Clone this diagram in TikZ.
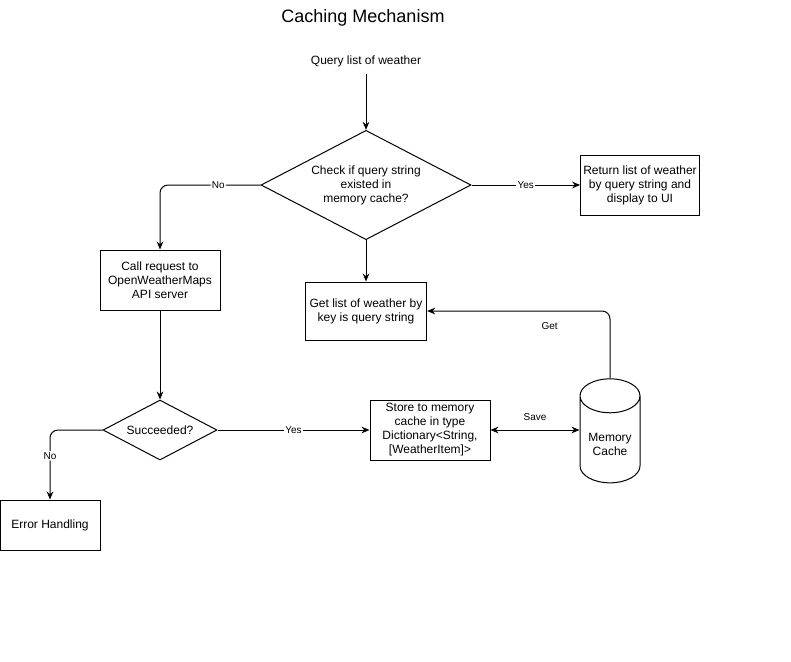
\documentclass[tikz,border=0pt]{standalone}
\usepackage{fontspec}
\setmainfont{Liberation Sans}
\usetikzlibrary{shapes.geometric,arrows.meta}

\begin{document}
\begin{tikzpicture}[x=0.75pt,y=-0.75pt,
  font=\fontsize{9}{10.5}\selectfont,
  box/.style={draw,rectangle,line width=0.75pt,minimum width=90pt,minimum height=45pt,align=center,inner sep=2pt},
  decision/.style={draw,diamond,aspect=2,line width=0.75pt,inner sep=0pt,align=center},
  flow/.style={-{Stealth[length=6pt,width=5pt]},line width=0.75pt},
  edgelabel/.style={fill=white,inner sep=1pt,font=\fontsize{7.5}{9}\selectfont}]
  \useasboundingbox (0,0) rectangle (791,661);
  \node (title) at (363,18) {\fontsize{13.5}{16}\selectfont Caching Mechanism};
  \node[inner sep=5pt] (query) at (366,61) {Query list of weather};
  % decisions
  \node[decision,minimum width=157.5pt,minimum height=82pt] (check) at (366,185) {Check if query string\\existed in\\memory cache?};
  \node[decision,minimum width=85.5pt,minimum height=45pt] (succ) at (160,430) {Succeeded?};
  % boxes
  \node[box,minimum width=89pt] (ret) at (640,185) {Return list of weather\\by query string and\\display to UI};
  \node[box] (call) at (160,280) {Call request to\\OpenWeatherMaps\\API server};
  \node[box,minimum width=91pt,minimum height=43.5pt] (get) at (366,311) {Get list of weather by\\key is query string};
  \node[box] (store) at (430,430) {Store to memory\\cache in type\\Dictionary<String,\\{[WeatherItem]>}};
  \node[box,minimum width=75pt,minimum height=37.5pt] (err) at (50,525) {Error Handling};
  \node[draw,cylinder,shape border rotate=90,aspect=0.65,line width=0.75pt,minimum width=45pt,minimum height=78pt,align=center] (cache) at (610,444) {Memory\\Cache};
  % connectors
  \draw[flow] (query) -- (check.north);
  \draw[flow] (check.east) -- node[edgelabel]{Yes} (ret.west);
  \draw[flow,rounded corners=6pt] (check.west) -- node[edgelabel,pos=0.42]{No} (call.north |- check.west) -- (call.north);
  \draw[flow] (check.south) -- (get.north);
  \draw[flow,rounded corners=6pt] (cache.north) -- (cache.north |- get.east) -- node[pos=0.33,below=5pt,font=\fontsize{7.5}{9}\selectfont]{Get} (get.east);
  \draw[flow] (call) -- (succ);
  \draw[flow] (succ.east) -- node[edgelabel]{Yes} (store.west);
  \draw[{Stealth[length=6pt,width=5pt]}-{Stealth[length=6pt,width=5pt]},line width=0.75pt] (store.east) -- node[above=3pt,font=\fontsize{7.5}{9}\selectfont]{Save} (store.east -| cache.west);
  \draw[flow,rounded corners=6pt] (succ.west) -- (err.north |- succ.west) -- node[edgelabel,pos=0.37]{No} (err.north);
\end{tikzpicture}
\end{document}
